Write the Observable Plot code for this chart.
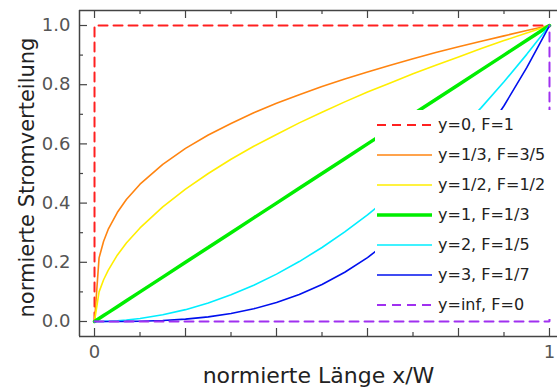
<!DOCTYPE html>
<html>
<head>
<meta charset="utf-8">
<script src="https://cdn.jsdelivr.net/npm/d3@7"></script>
<script src="https://cdn.jsdelivr.net/npm/@observablehq/plot@0.6"></script>
<style>
  body { margin: 0; background: #fff; }
  #wrap { position: relative; width: 557px; height: 387px; overflow: hidden; font-family: "DejaVu Sans", sans-serif; }
  #legend { position: absolute; left: 375px; top: 110px; width: 190px; height: 209px; background: #fff; }
  .row { position: absolute; left: 0; height: 30px; width: 190px; }
  .row svg { position: absolute; left: 2px; top: 0; }
  .row span { position: absolute; left: 63px; top: 5px; font-size: 16px; color: #222; line-height: 20px; white-space: nowrap; }
</style>
</head>
<body>
<div id="wrap"><div id="chart"></div><div id="legend"></div></div>
<script>
// x positions (normierte Länge x/W) at which the curves were read
const xs = [0, 0.01, 0.02, 0.03, 0.05, 0.07, 0.1, 0.15, 0.2, 0.25, 0.3, 0.35, 0.4, 0.45, 0.5, 0.55, 0.6, 0.65, 0.7, 0.75, 0.8, 0.85, 0.9, 0.95, 1];
// series values
const yThird  = [0, 0.215, 0.271, 0.311, 0.368, 0.412, 0.464, 0.531, 0.585, 0.630, 0.669, 0.705, 0.737, 0.766, 0.794, 0.819, 0.843, 0.866, 0.888, 0.909, 0.928, 0.947, 0.965, 0.983, 1];
const yHalf   = [0, 0.100, 0.141, 0.173, 0.224, 0.265, 0.316, 0.387, 0.447, 0.500, 0.548, 0.592, 0.632, 0.671, 0.707, 0.742, 0.775, 0.806, 0.837, 0.866, 0.894, 0.922, 0.949, 0.975, 1];
const yOne    = [0, 0.01, 0.02, 0.03, 0.05, 0.07, 0.1, 0.15, 0.2, 0.25, 0.3, 0.35, 0.4, 0.45, 0.5, 0.55, 0.6, 0.65, 0.7, 0.75, 0.8, 0.85, 0.9, 0.95, 1];
const yTwo    = [0, 0.0001, 0.0004, 0.0009, 0.0025, 0.0049, 0.01, 0.0225, 0.04, 0.0625, 0.09, 0.1225, 0.16, 0.2025, 0.25, 0.3025, 0.36, 0.4225, 0.49, 0.5625, 0.64, 0.7225, 0.81, 0.9025, 1];
const yThree  = [0, 0, 0, 0, 0.0001, 0.0003, 0.001, 0.0034, 0.008, 0.0156, 0.027, 0.0429, 0.064, 0.0911, 0.125, 0.1664, 0.216, 0.2746, 0.343, 0.4219, 0.512, 0.6141, 0.729, 0.8574, 1];
// limiting cases
const zeroX = [0, 0, 1];
const zeroY = [0, 1, 1];
const infX  = [0, 1, 1];
const infY  = [0, 0, 1];

const labels = ["y=0, F=1", "y=1/3, F=3/5", "y=1/2, F=1/2", "y=1, F=1/3", "y=2, F=1/5", "y=3, F=1/7", "y=inf, F=0"];
const colors = ["#ff2020", "#ff8410", "#ffee00", "#00ee00", "#00eeff", "#0010ee", "#a030f0"];
const widths = [2, 1.6, 1.6, 3.5, 1.6, 1.6, 2];
const dashes = ["9,6", null, null, null, null, null, "9,6"];

const majorTicks = [0, 0.2, 0.4, 0.6, 0.8, 1];
const minorTicks = [0.1, 0.3, 0.5, 0.7, 0.9];
const xTickLabels = [0, 1];

const seriesXY = [
  [zeroX, zeroY], [xs, yThird], [xs, yHalf], [xs, yOne], [xs, yTwo], [xs, yThree], [infX, infY]
];

const xDomain = [-0.033, 1.0176];
const yDomain = [-0.0507, 1.0507];
const frameColor = "#444";

const lineMarks = seriesXY.map(([X, Y], i) =>
  Plot.line(X.map((x, j) => ({x, y: Y[j]})), {
    x: "x", y: "y", stroke: colors[i], strokeWidth: widths[i],
    strokeDasharray: dashes[i] || undefined, strokeLinejoin: "miter"
  })
);

const chart = Plot.plot({
  width: 557, height: 387,
  marginLeft: 79, marginRight: 0, marginTop: 10, marginBottom: 51,
  x: {domain: xDomain},
  y: {domain: yDomain},
  style: {fontFamily: "DejaVu Sans, sans-serif", background: "white"},
  marks: [
    ...lineMarks,
    // frame (top, bottom, left)
    Plot.ruleY([yDomain[1]], {stroke: frameColor, strokeWidth: 1.5}),
    Plot.ruleY([yDomain[0]], {stroke: frameColor, strokeWidth: 1.5}),
    Plot.ruleX([xDomain[0]], {stroke: frameColor, strokeWidth: 1.5}),
    // inward ticks
    Plot.tickX(majorTicks, {stroke: frameColor, strokeWidth: 1.2, insetTop: 318}),
    Plot.tickX(minorTicks, {stroke: frameColor, strokeWidth: 1.2, insetTop: 322}),
    Plot.tickX(majorTicks, {stroke: frameColor, strokeWidth: 1.2, insetBottom: 318}),
    Plot.tickX(minorTicks, {stroke: frameColor, strokeWidth: 1.2, insetBottom: 322}),
    Plot.tickY(majorTicks, {stroke: frameColor, strokeWidth: 1.2, insetRight: 470}),
    Plot.tickY(minorTicks, {stroke: frameColor, strokeWidth: 1.2, insetRight: 474}),
    // tick labels
    Plot.axisX(xTickLabels, {tickSize: 0, tickPadding: 9, fontSize: 18, color: "#555", label: null, tickFormat: d3.format("d")}),
    Plot.axisY(majorTicks, {tickSize: 0, tickPadding: 9, fontSize: 18, color: "#555", label: null, tickFormat: d3.format(".1f")}),
    // axis titles
    Plot.text(["normierte Länge x/W"], {frameAnchor: "bottom", textAnchor: "middle", lineAnchor: "middle", dy: 39, fontSize: 22, fill: "#222"}),
    Plot.text(["normierte Stromverteilung"], {frameAnchor: "left", textAnchor: "middle", lineAnchor: "middle", rotate: -90, dx: -52, dy: 4, fontSize: 21, fill: "#222"})
  ]
});
document.getElementById("chart").appendChild(chart);

// legend (inside plot, white opaque box)
const legend = document.getElementById("legend");
labels.forEach((lab, i) => {
  const row = document.createElement("div");
  row.className = "row";
  row.style.top = (i * 30) + "px";
  const dash = dashes[i] ? ` stroke-dasharray="${dashes[i]}"` : "";
  row.innerHTML = `<svg width="56" height="30"><line x1="0" y1="15" x2="55" y2="15" stroke="${colors[i]}" stroke-width="${widths[i]}"${dash}/></svg><span>${lab}</span>`;
  legend.appendChild(row);
});
</script>
</body>
</html>
